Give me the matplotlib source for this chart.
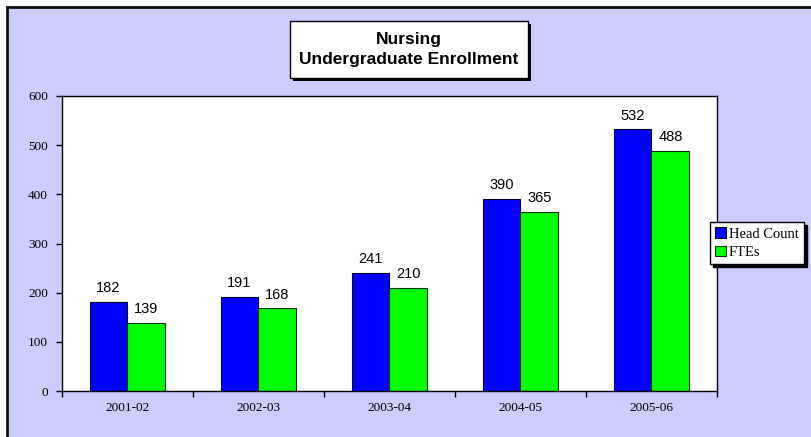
import matplotlib
matplotlib.use("Agg")
import matplotlib.pyplot as plt
from matplotlib.patches import Rectangle
import numpy as np

# data
years = ['2001-02', '2002-03', '2003-04', '2004-05', '2005-06']
head_count = [182, 191, 241, 390, 532]
ftes = [139, 168, 210, 365, 488]

W, H = 812, 437
fig = plt.figure(figsize=(W / 100, H / 100), dpi=100)
fig.patch.set_facecolor('white')

# outer chart area (runs off the right and bottom edges)
fig.patches.append(Rectangle((7 / W, -0.1), 1.2, 1 - 7 / H + 0.1, transform=fig.transFigure,
                             facecolor='#ccccff', edgecolor='#111111', linewidth=2, zorder=-5))

ax = fig.add_axes([62 / W, 1 - 391 / H, 655 / W, 295 / H])
ax.set_facecolor('white')

x = np.arange(len(years))
bw = 0.29
b1 = ax.bar(x - bw / 2, head_count, bw, color='#0000ff', edgecolor='#000033', linewidth=0.8,
            label='Head Count')
b2 = ax.bar(x + bw / 2, ftes, bw, color='#00ff00', edgecolor='#003300', linewidth=0.8,
            label='FTEs')

for bars in (b1, b2):
    for r in bars:
        ax.text(r.get_x() + r.get_width() / 2, r.get_height() + 14, f'{int(r.get_height())}',
                ha='center', va='bottom', fontsize=10.5, family='Liberation Sans')

ax.set_xlim(-0.5, len(years) - 0.5)
ax.set_ylim(0, 600)
ax.set_yticks(range(0, 601, 100))
ax.set_xticks(x)
ax.set_xticklabels(years, family='Liberation Serif', fontsize=9.5)
ax.set_xticks(np.arange(-0.5, len(years), 1), minor=True)
ax.tick_params(axis='x', which='major', length=0, pad=8)
ax.tick_params(axis='x', which='minor', length=4, width=1, direction='out')
ax.tick_params(axis='y', length=4, width=1, direction='out', pad=6)
for lab in ax.get_yticklabels():
    lab.set_family('Liberation Serif')
    lab.set_fontsize(9.5)
for s in ax.spines.values():
    s.set_linewidth(1)
    s.set_color('black')

leg = ax.legend(loc='upper left', bbox_to_anchor=(710 / W, 1 - 222 / H),
                bbox_transform=fig.transFigure, frameon=True, fancybox=False,
                shadow={'color': 'black', 'alpha': 1, 'ox': 2, 'oy': -2},
                prop={'family': 'Liberation Serif', 'size': 10.5},
                handlelength=0.75, handleheight=0.75, handletextpad=0.2,
                borderpad=0.35, labelspacing=0.35, borderaxespad=0)
leg.get_frame().set_edgecolor('black')
leg.get_frame().set_linewidth(1)
leg.set_zorder(10)

# title box with shadow
tx0, ty0, tw, th = 290 / W, 1 - 78 / H, 238 / W, 57 / H
fig.patches.append(Rectangle((tx0 + 3 / W, ty0 - 3 / H), tw, th, transform=fig.transFigure,
                             facecolor='black', edgecolor='none', zorder=2))
fig.patches.append(Rectangle((tx0, ty0), tw, th, transform=fig.transFigure,
                             facecolor='white', edgecolor='black', linewidth=1, zorder=3))
fig.text(tx0 + tw / 2, ty0 + th / 2, 'Nursing\nUndergraduate Enrollment', ha='center',
         va='center', fontsize=12.5, fontweight='bold', family='Liberation Sans',
         linespacing=1.4, zorder=4)

fig.savefig('out.png', dpi=100)
